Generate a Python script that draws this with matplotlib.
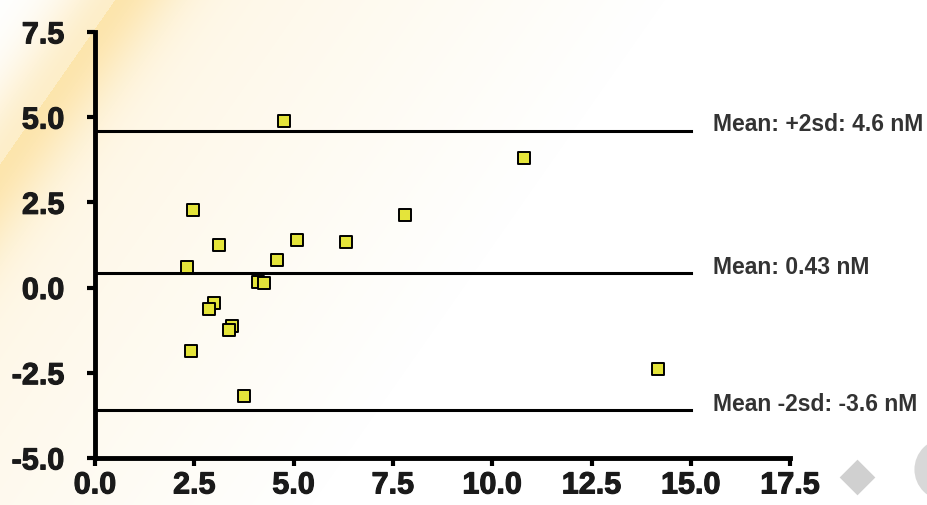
import numpy as np
import matplotlib
matplotlib.use("Agg")
import matplotlib.pyplot as plt
import matplotlib.patheffects as pe

# 数据
x_vals = [4.76, 10.81, 2.47, 7.81, 3.12, 5.09, 6.32, 4.58, 2.32, 4.11, 4.26,
          3.00, 2.87, 3.45, 3.38, 2.42, 3.75, 14.18]
y_vals = [4.90, 3.81, 2.26, 2.14, 1.26, 1.38, 1.35, 0.82, 0.59, 0.15, 0.12,
          -0.44, -0.62, -1.14, -1.26, -1.85, -3.17, -2.38]

line_levels = [4.6, 0.43, -3.6]
line_labels = ["Mean: +2sd: 4.6 nM", "Mean: 0.43 nM", "Mean -2sd: -3.6 nM"]
x_ticks = [0.0, 2.5, 5.0, 7.5, 10.0, 12.5, 15.0, 17.5]
y_ticks = [-5.0, -2.5, 0.0, 2.5, 5.0, 7.5]

plt.rcParams['font.family'] = ['Liberation Sans', 'DejaVu Sans']

fig = plt.figure(figsize=(9.28, 5.06), dpi=100)

# 背景渐变
bg = fig.add_axes([0, 0, 1, 1], zorder=-10)
W, H = 928, 506
xx, yy = np.meshgrid(np.arange(W), np.arange(H))
d = xx + 0.7 * yy
band = np.exp(-((d - 115) / 60.0) ** 2)
cream = np.clip(1 - (d - 115) / 550.0, 0, 1) * (d > 115) * 0.3
w = np.clip(band * 0.55 + cream, 0, 1)[..., None]
tint = np.array([0.99, 0.88, 0.62])
img = (1 - w) * np.array([1.0, 1.0, 1.0]) + w * tint
bg.imshow(img, aspect='auto', extent=[0, 1, 0, 1], origin='upper')
bg.set_axis_off()

ax = fig.add_axes([0.1024, 0.093, 0.749, 0.842])
ax.patch.set_alpha(0)

for lvl, lab in zip(line_levels, line_labels):
    ax.plot([0, 15.0], [lvl, lvl], color='black', lw=2.2, zorder=2)
    ax.text(15.55, lvl + 0.2, lab, fontsize=16.5, fontweight='bold',
            color='#333333', va='center', ha='left', clip_on=False)

ax.scatter(x_vals, y_vals, marker='s', s=70, facecolor='#e4e43a',
           edgecolor='black', linewidths=1.4, zorder=3)

ax.set_xlim(0, 17.5)
ax.set_ylim(-5.0, 7.5)
ax.set_xticks(x_ticks)
ax.set_yticks(y_ticks)
ax.set_xticklabels([f"{v:.1f}" for v in x_ticks])
ax.set_yticklabels([f"{v:.1f}" for v in y_ticks])
for s in ['top', 'right']:
    ax.spines[s].set_visible(False)
for s in ['left', 'bottom']:
    ax.spines[s].set_linewidth(3.5)
ax.tick_params(axis='both', width=3, length=6, labelsize=22, direction='out')
for t in ax.get_xticklabels() + ax.get_yticklabels():
    t.set_fontweight('bold')
    t.set_color('#1a1a1a')
    t.set_path_effects([pe.withStroke(linewidth=0.8, foreground='#1a1a1a')])
ax.tick_params(axis='y', pad=16)
ax.tick_params(axis='x', pad=3)

# 右下角水印
wm = fig.add_axes([0, 0, 1, 1], zorder=-5)
wm.set_xlim(0, W)
wm.set_ylim(H, 0)
wm.set_axis_off()
wm.patch.set_alpha(0)
wm.scatter([857], [478], marker='D', s=330, color='#d0d0d0', linewidths=0)
wm.scatter([945], [470], marker='o', s=2000, color='#d8d8d8', linewidths=0)

fig.savefig("out.png", dpi=100)
